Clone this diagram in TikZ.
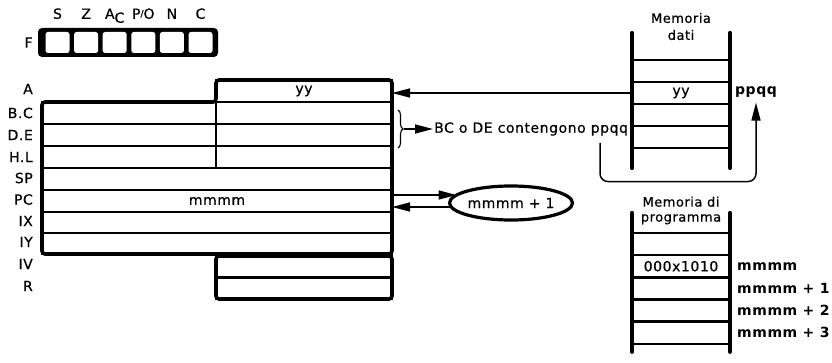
\documentclass[tikz,border=0pt]{standalone}
\usepackage{fontspec}
\setmainfont{DejaVu Sans}[LetterSpace=4, UprightFeatures={FakeBold=0.6}]
\usepackage{tikz}
\usetikzlibrary{shapes.geometric,arrows.meta,positioning,calc,decorations.pathreplacing}

\begin{document}
\begin{tikzpicture}[
	x=1pt, y=-1pt,
	font=\fontsize{14}{16}\selectfont,
	>={Triangle[length=18pt,width=9pt]},
	cella/.style={rectangle, draw=black, line width=2.4pt, minimum height=22pt, inner sep=0pt, outer sep=0pt},
	bordo/.style={line width=3.6pt, rounded corners=3pt},
	flagbox/.style={rectangle, rounded corners=2.5pt, fill=white, minimum width=24pt, minimum height=21pt, inner sep=0pt},
	memo/.style={rectangle, draw=black, line width=2.6pt, minimum width=98pt, minimum height=22pt, inner sep=0pt, outer sep=0pt},
	asta/.style={line width=4.2pt, line cap=round},
	etic/.style={anchor=east, inner sep=0pt},
	indir/.style={inner sep=0pt, font=\fontsize{14}{16}\selectfont\bfseries},
	freccia/.style={->, line width=1.5pt},
]
\useasboundingbox (0,0) rectangle (832,363);

% registro dei flag
\node[rectangle, fill=black, rounded corners=4pt, minimum width=180pt, minimum height=29pt] (flag) at (128,42.5) {};
\node[left=5pt of flag, inner sep=0pt] (lF) {F};
\foreach \t [count=\i from 0] in {S,Z,A\raisebox{-4pt}{C},P\raisebox{2pt}{\small/}O,N,C} {
	\node[flagbox] (f\i) at (57.5+28.6*\i,42.5) {};
	\node[anchor=base, inner sep=0pt] (lf\i) at ([yshift=13pt]f\i.north) {\t};
}

% banco dei registri
\foreach \r/\yc/\t in {A/91/yy, BCd/113/{}, DEd/135/{}, HLd/157/{}}
	\node[cella, minimum width=176pt] (r\r) at (304,\yc) {\t};
\foreach \r/\yc in {BCs/113, DEs/135, HLs/157}
	\node[cella, minimum width=174pt] (r\r) at (129,\yc) {};
\foreach \r/\yc/\h/\t in {SP/179/22/{}, PC/201/22/mmmm, IX/222.5/21/{}, IY/243.5/21/{}}
	\node[cella, minimum width=350pt, minimum height=\h pt] (r\r) at (217,\yc) {\t};
\foreach \r/\yc in {IV/266.75, R/288.25}
	\node[cella, minimum width=176pt, minimum height=21.5pt] (r\r) at (304,\yc) {};

\draw[bordo] (rBCs.north west) -- (rA.south west) -- (rA.north west) -- (rA.north east) -- (rIY.south east) -- (rIY.south west) -- cycle;
\draw[bordo] (rIV.north west) rectangle (rR.south east);

\foreach \n/\t/\yc in {A/A/89, BC/B.C/113, DE/D.E/135, HL/H.L/157, SP/SP/178, PC/PC/199.5, IX/IX/221, IY/IY/242, IV/IV/264, R/R/286}
	\node[etic] (l\n) at (33,\yc) {\t};

% indirizzamento indiretto
\draw[decorate, decoration={brace, amplitude=5pt}, line width=1.1pt] (398,110) -- (398,148);
\coordinate (graffa) at (404,129);
\node[anchor=west, inner sep=1pt] (tBC) at (433,129) {BC o DE contengono ppqq};
\draw[freccia] (graffa) -- (tBC.west);

% incremento del PC
\node[ellipse, draw, line width=3.2pt, minimum width=123pt, minimum height=34pt, inner sep=0pt, outer sep=0pt] (inc) at (511,203) {mmmm + 1};
\draw[freccia] ($(rPC.east)+(0,-6)$) -- ($(rPC.east -| inc.west)+(7,-6)$);
\draw[freccia] ($(rPC.east -| inc.west)+(2,6)$) -- ($(rPC.east)+(0,6)$);

% memoria dati
\node[align=center, font=\fontsize{13}{17}\selectfont] (tdati) at (681,26.5) {Memoria\\dati};
\foreach \i/\yc/\t in {1/71/{}, 2/93/yy, 3/115/{}, 4/137/{}}
	\node[memo] (md\i) at (681,\yc) {\t};
\draw[asta] ($(md1.north west)+(0,-27)$) -- ($(md4.south west)+(0,20)$);
\draw[asta] ($(md1.north east)+(0,-27)$) -- ($(md4.south east)+(0,20)$);
\node[indir, inner sep=5pt] (ppqq) at (756,92) {ppqq};
\draw[freccia] (md2.west) -- (md2.west -| rA.east);
\coordinate (ansa) at (600,143);
\draw[freccia, rounded corners=8pt] (ansa) |- ([yshift=-79pt]ppqq.south) -- (ppqq.south);

% memoria di programma
\node[align=center, font=\fontsize{13}{15}\selectfont] (tprog) at (681,210.5) {Memoria di\\programma};
\foreach \i/\yc/\t in {1/244/{}, 2/266.2/000x1010, 3/288.4/{}, 4/310.6/{}, 5/332.8/{}}
	\node[memo] (mp\i) at (681,\yc) {\t};
\draw[asta] ($(mp1.north west)+(0,-20)$) -- ($(mp5.south west)+(0,8)$);
\draw[asta] ($(mp1.north east)+(0,-20)$) -- ($(mp5.south east)+(0,8)$);
\foreach \i/\t in {2/mmmm, 3/mmmm + 1, 4/mmmm + 2, 5/mmmm + 3}
	\node[indir, anchor=west, right=7pt of mp\i] (ind\i) {\t};
\end{tikzpicture}
\end{document}
